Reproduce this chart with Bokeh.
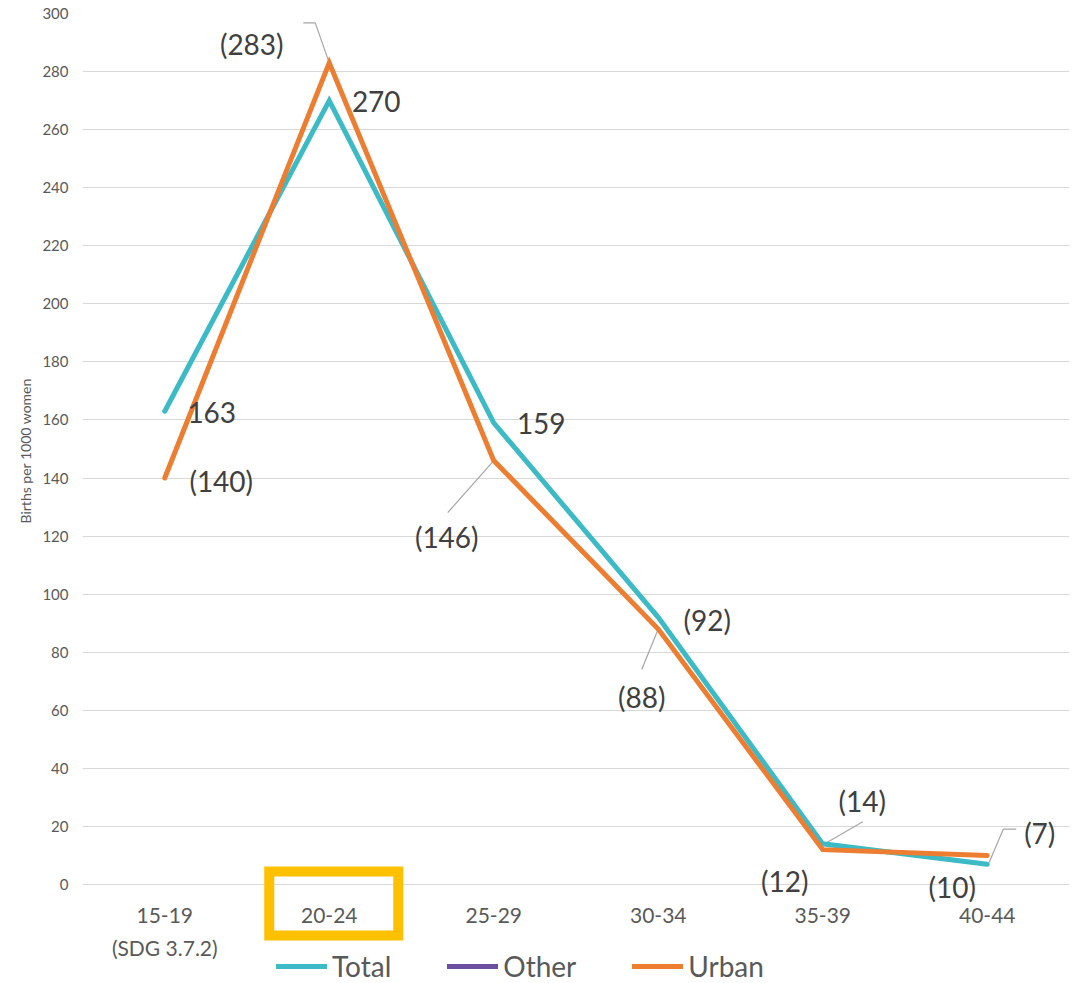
import math
from bokeh.plotting import figure
from bokeh.models import (Range1d, FixedTicker, ColumnDataSource, LabelSet,
                          Legend, LegendItem, BoxAnnotation, Title)
from bokeh.core.properties import value
from bokeh.embed import file_html
from bokeh.resources import INLINE

# ---------------- data ----------------
categories = ["15-19\n(SDG 3.7.2)", "20-24", "25-29", "30-34", "35-39", "40-44"]
total = [163, 270, 159, 92, 14, 7]
urban = [140, 283, 146, 88, 12, 10]
other = []          # legend-only series (no values shown in the chart)
total_paren = [False, False, False, True, True, True]
urban_paren = [True, True, True, True, True, True]
y_ticks = list(range(0, 301, 20))
highlight = "20-24"
y_label = "Births per 1000 women"

# ---------------- style / geometry ----------------
FONT = "Lato"
TEAL = "#3CBAC6"
ORANGE = "#ED7D31"
PURPLE = "#6B4FA0"
GRID = "#D9D9D9"
TICK_C = "#595959"
LABEL_C = "#404040"
LEADER_C = "#A6A6A6"

W, H = 1076, 983
ML, MR, MT, MB = 82, 7, 13, 0
FW, FH = W - ML - MR, H - MT - MB
XMIN, XMAX = -0.5, 5.5
YMIN, YMAX = 0, 300
PLOT_PX = 871                      # pixel height of the 0..300 band
PX_X = FW / (XMAX - XMIN)
PX_Y = PLOT_PX / (YMAX - YMIN)
Y_LO = YMAX - FH / PX_Y            # room below 0 for category labels + legend

# label offsets (screen px, relative to the data point)
total_off = [(47, -1), (47, -1), (47.5, -1), (49, -3), (39.5, 43), (52.5, 31)]
urban_off = [(56.5, -3), (-77.5, 19), (-47, -76), (-16.5, -67.5), (-38, -31), (-35, -32)]
# leader line paths (screen px, relative to the data point)
total_lead = [None, None, None, None, [(2, 0), (40, 22)], [(2, 2), (16, 35), (29, 35)]]
urban_lead = [None, [(0, 0), (-14, 40), (-26, 40)], [(0, 0), (-46, -52)], [(0, 0), (-16.5, -40.5)], None, None]

xs = list(range(len(categories)))

p = figure(width=W, height=H, output_backend="svg", toolbar_location=None,
           x_range=Range1d(XMIN, XMAX), y_range=Range1d(Y_LO, YMAX),
           min_border_left=ML, min_border_right=MR, min_border_top=MT,
           min_border_bottom=MB)
p.outline_line_color = None
p.background_fill_color = "white"
p.border_fill_color = "white"

# y axis
p.yaxis.ticker = FixedTicker(ticks=y_ticks)
p.yaxis.bounds = (YMIN, YMAX)
p.yaxis.axis_line_color = None
p.yaxis.major_tick_line_color = None
p.yaxis.minor_tick_line_color = None
p.yaxis.major_label_text_font = FONT
p.yaxis.major_label_text_color = TICK_C
p.yaxis.major_label_text_font_size = "15px"
p.yaxis.major_label_standoff = 8

# y axis title, placed along the 0..300 band
ytitle = Title(text=y_label, align="left", offset=460, vertical_align="middle",
               text_font=FONT, text_font_size="14px", text_font_style="normal",
               text_color=TICK_C, standoff=9)
p.add_layout(ytitle, "left")

# x axis: category labels drawn as text below y=0
p.xaxis.visible = False
p.xgrid.visible = False
p.ygrid.ticker = FixedTicker(ticks=y_ticks)
p.ygrid.grid_line_color = GRID
p.ygrid.grid_line_width = 1

CAT_LINE = 27
cat = dict(x=[], y=[], text=[], dy=[])
for i, c in enumerate(categories):
    for k, line in enumerate(c.split("\n")):
        cat["x"].append(i)
        cat["y"].append(YMIN)
        cat["text"].append(line)
        cat["dy"].append(-23 - k * CAT_LINE)
p.add_layout(LabelSet(x="x", y="y", text="text", y_offset="dy",
                      source=ColumnDataSource(cat),
                      text_align="center", text_baseline="top",
                      text_font=value(FONT), text_font_size=value("21px"),
                      text_color=TICK_C))

# highlight box around the 20-24 category label
hi = categories.index(highlight)
box = BoxAnnotation(left=hi - 60 / PX_X, right=hi + 69 / PX_X,
                    top=13 / PX_Y, bottom=-51 / PX_Y,
                    fill_alpha=0, line_color="#FFC000", line_alpha=1,
                    line_width=10, line_join="miter")
p.add_layout(box)

# leader lines
lx, ly = [], []
for vals, leads in ((total, total_lead), (urban, urban_lead)):
    for i, (v, path) in enumerate(zip(vals, leads)):
        if path:
            lx.append([i + dx / PX_X for dx, dy in path])
            ly.append([v + dy / PX_Y for dx, dy in path])
p.multi_line(lx, ly, line_color=LEADER_C, line_width=1.2)

# series lines
other_y = other if other else [math.nan] * len(xs)
r_total = p.line(xs, total, line_color=TEAL, line_width=5, line_cap="round", line_join="miter")
r_other = p.line(xs, other_y, line_color=PURPLE, line_width=5, line_cap="round")
r_urban = p.line(xs, urban, line_color=ORANGE, line_width=5, line_cap="round", line_join="miter")

# data labels
def fmt(v, paren):
    return f"({v})" if paren else f"{v}"

lab = dict(x=[], y=[], text=[], dx=[], dy=[])
for vals, parens, offs in ((total, total_paren, total_off), (urban, urban_paren, urban_off)):
    for i, (v, pa, (dx, dy)) in enumerate(zip(vals, parens, offs)):
        lab["x"].append(i)
        lab["y"].append(v)
        lab["text"].append(fmt(v, pa))
        lab["dx"].append(dx)
        lab["dy"].append(dy)
labels = LabelSet(x="x", y="y", text="text", x_offset="dx", y_offset="dy",
                  source=ColumnDataSource(lab), text_align="center",
                  text_baseline="middle", text_font=value(FONT),
                  text_font_size=value("28px"), text_color=LABEL_C)
p.add_layout(labels)

# legend
legend = Legend(items=[LegendItem(label="Total", renderers=[r_total]),
                       LegendItem(label="Other", renderers=[r_other]),
                       LegendItem(label="Urban", renderers=[r_urban])],
                orientation="horizontal", location=(194, 0),
                label_text_font=FONT, label_text_font_size="28px",
                label_text_color=TICK_C, glyph_width=51, glyph_height=20,
                label_standoff=5, spacing=56, padding=0, margin=0,
                border_line_alpha=0, background_fill_alpha=0)
p.add_layout(legend, "center")

open("out.html", "w").write(file_html(p, INLINE, title="Births per 1000 women"))
